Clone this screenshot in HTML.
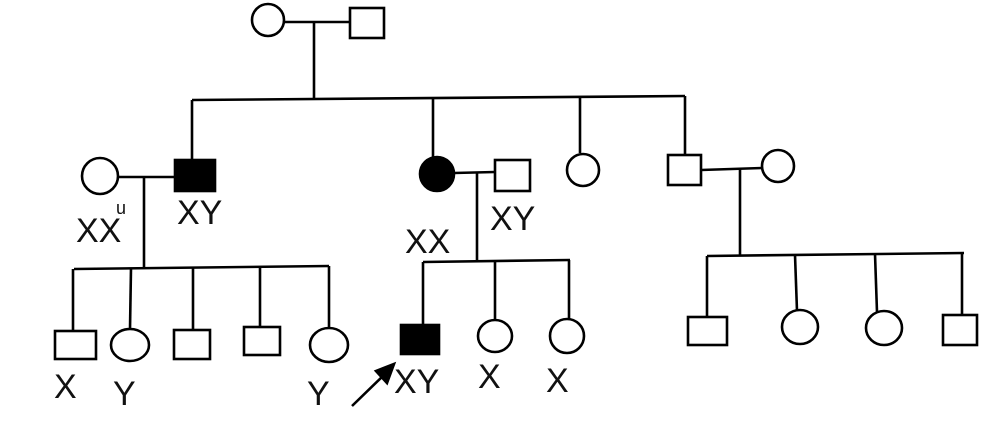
<!DOCTYPE html>
<html><head><style>
html,body{margin:0;padding:0;background:#fff;}
svg{display:block}
text{font-family:"Liberation Sans",sans-serif;font-size:34px;fill:#111;}
</style></head><body>
<svg width="990" height="436" viewBox="0 0 990 436" xmlns="http://www.w3.org/2000/svg">
<g stroke="#000" stroke-width="2.6" fill="none">
<circle cx="268" cy="20" r="16"/>
<rect x="350" y="8" width="34" height="30"/>
<line x1="284" y1="22" x2="350" y2="22"/>
<line x1="314" y1="22" x2="314" y2="99"/>
<line x1="192" y1="100" x2="685" y2="96"/>
<line x1="192" y1="100" x2="192" y2="162"/>
<line x1="433" y1="98" x2="433" y2="160"/>
<line x1="580" y1="97" x2="580" y2="153"/>
<line x1="685" y1="96" x2="685" y2="155"/>
<circle cx="100" cy="176" r="18"/>
<rect x="175" y="160" width="40" height="31" fill="#000"/>
<line x1="118" y1="177" x2="175" y2="177"/>
<line x1="144" y1="177" x2="144" y2="268"/>
<line x1="74" y1="269" x2="329" y2="266"/>
<line x1="73" y1="269" x2="73" y2="331"/>
<line x1="131" y1="268" x2="130" y2="329"/>
<line x1="193" y1="268" x2="193" y2="330"/>
<line x1="260" y1="267" x2="260" y2="327"/>
<line x1="329" y1="266" x2="329" y2="328"/>
<rect x="55" y="331" width="41" height="28"/>
<ellipse cx="130" cy="345" rx="19" ry="16"/>
<rect x="174" y="330" width="36" height="29"/>
<rect x="244" y="327" width="36" height="28"/>
<ellipse cx="329" cy="345" rx="19" ry="17"/>
<circle cx="437" cy="174" r="17" fill="#000"/>
<rect x="495" y="160" width="35" height="31"/>
<line x1="454" y1="173" x2="495" y2="172"/>
<line x1="477" y1="173" x2="477" y2="261"/>
<line x1="423" y1="262" x2="570" y2="260"/>
<line x1="423" y1="262" x2="423" y2="325"/>
<line x1="495" y1="261" x2="495" y2="320"/>
<line x1="569" y1="260" x2="569" y2="320"/>
<rect x="401" y="325" width="38" height="29" fill="#000"/>
<ellipse cx="495" cy="336" rx="17" ry="16"/>
<ellipse cx="567" cy="336" rx="17" ry="17"/>
<line x1="352" y1="406" x2="386" y2="373"/>
<polygon points="394,364 376,371 387,383" fill="#000"/>
<circle cx="583" cy="170" r="16"/>
<rect x="668" y="155" width="33" height="30"/>
<circle cx="778" cy="166" r="16"/>
<line x1="701" y1="170" x2="762" y2="168"/>
<line x1="740" y1="169" x2="740" y2="255"/>
<line x1="707" y1="256" x2="964" y2="253"/>
<line x1="707" y1="256" x2="707" y2="317"/>
<line x1="795" y1="255" x2="797" y2="311"/>
<line x1="875" y1="254" x2="877" y2="312"/>
<line x1="962" y1="253" x2="962" y2="315"/>
<rect x="688" y="317" width="39" height="28"/>
<ellipse cx="800" cy="327" rx="18" ry="17"/>
<ellipse cx="884" cy="328" rx="18" ry="17"/>
<rect x="943" y="315" width="34" height="30"/>
</g>
<text x="76" y="242">XX</text><text x="116" y="214" style="font-size:18px">u</text>
<text x="177" y="224">XY</text>
<text x="405" y="253">XX</text>
<text x="490" y="230">XY</text>
<text x="54" y="398">X</text>
<text x="113" y="405">Y</text>
<text x="307" y="405">Y</text>
<text x="394" y="393">XY</text>
<text x="478" y="388">X</text>
<text x="546" y="392">X</text>
</svg>
</body></html>
